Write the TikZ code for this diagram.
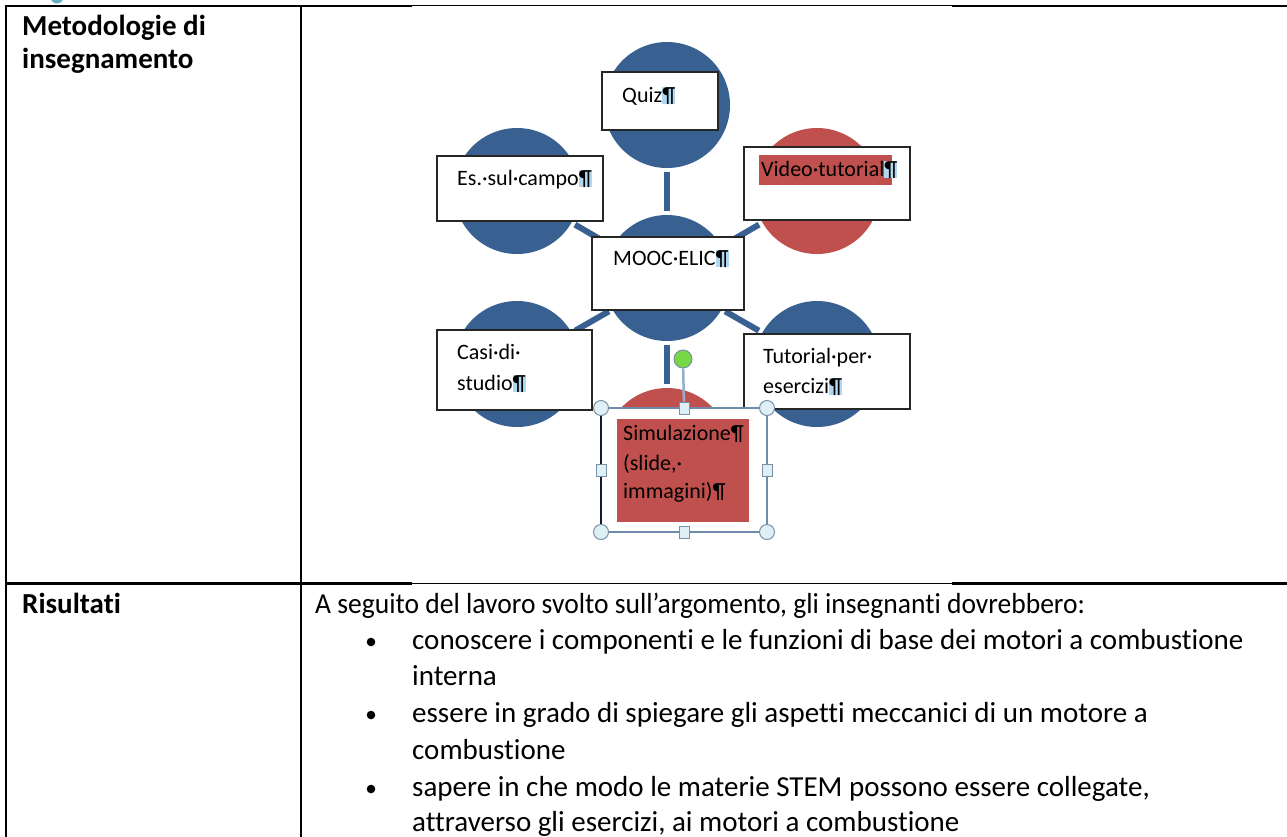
\documentclass[tikz,border=0pt]{standalone}
\usepackage{fontspec}
\setmainfont{Carlito}[Ligatures={NoCommon}]
\usetikzlibrary{calc}

\definecolor{hubblue}{RGB}{56,96,145}
\definecolor{hubred}{RGB}{192,80,77}
\definecolor{selline}{RGB}{110,140,170}
\definecolor{handlefill}{RGB}{222,239,246}
\definecolor{handleedge}{RGB}{120,145,165}
\definecolor{rotgreen}{RGB}{120,215,70}
\definecolor{rotline}{RGB}{150,175,200}
\definecolor{pilbg}{RGB}{175,215,240}
\definecolor{tealdot}{RGB}{100,175,200}

\newcommand{\pil}{{\setlength{\fboxsep}{0pt}\colorbox{pilbg}{¶}}}

\tikzset{
  hub/.style={circle, inner sep=0pt, outer sep=0pt, minimum size=126pt, draw=none},
  link/.style={draw=hubblue, line width=6pt, shorten <=4pt, shorten >=4pt},
  labelbox/.style={rectangle, draw=black!85, line width=1.6pt, fill=white, inner sep=0pt, outer sep=0pt},
  dtext/.style={anchor=base west, inner sep=0pt, font=\fontsize{22}{26}\selectfont},
  ttext/.style={anchor=base west, inner sep=0pt, font=\fontsize{29}{34}\selectfont},
  thead/.style={anchor=base west, inner sep=0pt, font=\fontsize{29}{34}\selectfont\bfseries},
  tborder/.style={line width=2.6pt, line cap=rect},
  tthin/.style={line width=1.4pt},
  cornerhandle/.style={circle, draw=handleedge, fill=handlefill, line width=1pt, minimum size=15pt, inner sep=0pt},
  sidehandle/.style={rectangle, draw=handleedge, fill=handlefill, line width=1pt, minimum width=10pt, minimum height=12pt, inner sep=0pt},
}

\begin{document}
\begin{tikzpicture}[x=1pt, y=-1pt]
\useasboundingbox (0,0) rectangle (1287,836);

% small mark at the top edge
\fill[tealdot] (57,-3) circle (6.5);

% table rules
\draw[tborder] (6,836) -- (6,6) -- (411,6);
\draw[tthin] (411,5.7) -- (953,5.7);
\draw[tborder] (953,6) -- (1290,6);
\draw[tborder] (6,583.5) -- (411,583.5);
\draw[tthin] (411,583.2) -- (953,583.2);
\draw[tborder] (953,583.5) -- (1290,583.5);
\draw[tborder] (301,6) -- (301,836);

% table headings and text
\node[thead] (h1) at (22,35) {Metodologie di};
\node[thead] (h2) at (22,68) {insegnamento};
\node[thead] (h3) at (22,613) {Risultati};

\node[ttext] (r0) at (315,613) {\scalebox{0.95}[1]{A seguito del lavoro svolto sull’argomento, gli insegnanti dovrebbero:}};
\fill (371,642) circle (4.3);
\node[ttext] (r1) at (412,649) {conoscere i componenti e le funzioni di base dei motori a combustione};
\node[ttext] (r2) at (412,685) {interna};
\fill (371,715) circle (4.3);
\node[ttext] (r3) at (412,722) {essere in grado di spiegare gli aspetti meccanici di un motore a};
\node[ttext] (r4) at (412,759) {combustione};
\fill (371,789) circle (4.3);
\node[ttext] (r5) at (412,796) {sapere in che modo le materie STEM possono essere collegate,};
\node[ttext] (r6) at (412,831) {attraverso gli esercizi, ai motori a combustione};

% circles of the hub diagram
\node[hub, fill=hubblue] (cMooc) at (667,278) {};
\node[hub, fill=hubblue] (cQuiz) at (667,105) {};
\node[hub, fill=hubblue] (cCampo) at (517,191) {};
\node[hub, fill=hubred]  (cVideo) at (817,191) {};
\node[hub, fill=hubblue] (cCasi) at (517,364) {};
\node[hub, fill=hubblue] (cTut) at (817,364) {};
\node[hub, fill=hubred]  (cSim) at (667,451) {};

% spokes
\foreach \o in {cQuiz,cCampo,cVideo,cCasi,cTut,cSim}
  \draw[link] (cMooc) -- (\o);

% label boxes
\node[labelbox, minimum width=116pt, minimum height=58pt] (bQuiz) at (660,101) {};
\node[labelbox, minimum width=166pt, minimum height=65pt] (bCampo) at (520,188.5) {};
\node[labelbox, minimum width=166pt, minimum height=73pt] (bVideo) at (827,183.5) {};
\node[labelbox, minimum width=152pt, minimum height=73pt] (bMooc) at (668,273.5) {};
\node[labelbox, minimum width=155pt, minimum height=80pt] (bCasi) at (514.5,370) {};
\node[labelbox, minimum width=166pt, minimum height=75pt] (bTut) at (827,371.5) {};
\node[labelbox, minimum width=166pt, minimum height=124pt] (bSim) at (684,470) {};

% text highlights
\fill[hubred] (759,155) rectangle (892,185);
\fill[hubred] (617,419) rectangle (749,522);

% box texts
\node[dtext] (tQuiz) at (622,102) {Quiz\pil};
\node[dtext] (tCampo) at (457,185) {Es.·sul·campo\pil};
\node[dtext] (tVideo) at (761,176) {Video·tutorial\pil};
\node[dtext] (tMooc) at (613,265) {MOOC·ELIC\pil};
\node[dtext] (tCasi1) at (457,359) {Casi·di·};
\node[dtext] (tCasi2) at (457,390) {studio\pil};
\node[dtext] (tTut1) at (763,363) {Tutorial·per·};
\node[dtext] (tTut2) at (763,393) {esercizi\pil};
\node[dtext] (tSim1) at (623,440) {Simulazione¶};
\node[dtext] (tSim2) at (623,470) {(slide,·};
\node[dtext] (tSim3) at (623,498) {immagini)¶};

% selection frame with handles
\draw[selline, line width=1.6pt] (bSim.north west) rectangle (bSim.south east);
\draw[black!70!hubblue, line width=2pt] (bSim.north west) -- (bSim.south west);
\node[sidehandle] (hTop) at (bSim.north) {};
\node[circle, fill=rotgreen, draw=handleedge, line width=1pt, minimum size=18pt, inner sep=0pt] (hRot) at (683,359) {};
\draw[rotline, line width=2.5pt] (hRot) -- (hTop);
\node[sidehandle] at (hTop) {};
\node[sidehandle] (hLeft) at (bSim.west) {};
\node[sidehandle] (hRight) at (bSim.east) {};
\node[sidehandle] (hBot) at (bSim.south) {};
\node[cornerhandle] (hNW) at (bSim.north west) {};
\node[cornerhandle] (hNE) at (bSim.north east) {};
\node[cornerhandle] (hSW) at (bSim.south west) {};
\node[cornerhandle] (hSE) at (bSim.south east) {};
\end{tikzpicture}
\end{document}
